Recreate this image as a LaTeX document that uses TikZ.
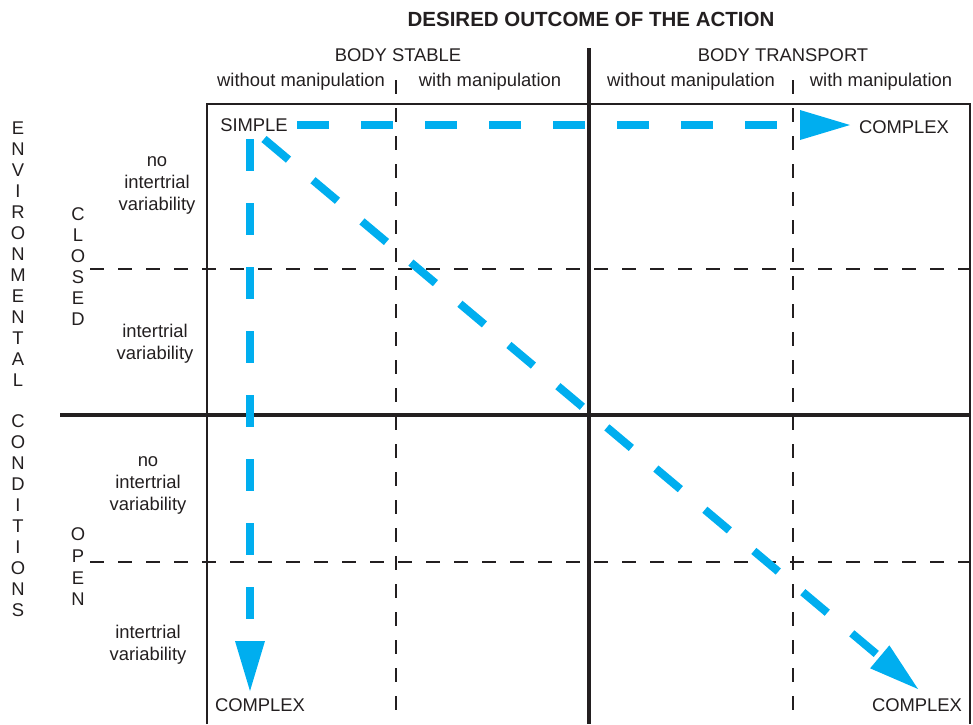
\documentclass[tikz,border=0pt]{standalone}
\usepackage{fontspec}
\setmainfont{Liberation Sans}
\usetikzlibrary{arrows.meta}

\definecolor{ink}{RGB}{35,31,32}
\definecolor{flow}{RGB}{0,174,239}

\tikzset{
	lbl/.style={text=ink, inner sep=0pt, align=center, font=\fontsize{18.4}{22}\selectfont},
	stack/.style={lbl, font=\fontsize{18.4}{21}\selectfont},
	gridline/.style={draw=ink, line width=1.4pt, dash pattern=on 14pt off 14pt},
	flowarrow/.style={draw=flow, line width=8pt, dash pattern=on 32pt off 32pt,
		-{Triangle[length=50pt, width=30pt, line width=0pt]}}
}

\begin{document}
\begin{tikzpicture}[x=1pt, y=-1pt]
	\useasboundingbox (0,0) rectangle (973,724);

	\pgfmathsetmacro{\L}{207}  % left edge of the grid
	\pgfmathsetmacro{\R}{970}  % right edge
	\pgfmathsetmacro{\T}{104}  % top edge
	\pgfmathsetmacro{\B}{724}  % bottom edge

	% Draw the frame
	\draw[ink, line width=2.2pt] (\L,\B) |- (\R,\T) -- (\R,\B);

	% Draw the dashed cell lines
	\draw[gridline] (396,80) -- (396,\B);
	\draw[gridline] (793,80) -- (793,\B);
	\draw[gridline] (90,269) -- (\R,269);
	\draw[gridline] (90,562) -- (\R,562);

	% Draw the main split
	\draw[ink, line width=4.5pt] (589,48) -- (589,\B);
	\draw[ink, line width=4.5pt] (60,415) -- (\R,415);

	% Label the columns
	\node[lbl, font=\fontsize{20.5}{24}\selectfont\bfseries] (title) at (591,19) {DESIRED OUTCOME OF THE ACTION};
	\node[lbl] (stable) at (398,55) {BODY STABLE};
	\node[lbl] (transport) at (783,55) {BODY TRANSPORT};
	\node[lbl] (stableWithout) at (301,82) {without manipulation};
	\node[lbl] (stableWith) at (490,82) {with manipulation};
	\node[lbl] (transWithout) at (691,82) {without manipulation};
	\node[lbl] (transWith) at (881,82) {with manipulation};

	% Label the rows
	\node[stack] (env) at (18,254) {E\\N\\V\\I\\R\\O\\N\\M\\E\\N\\T\\A\\L};
	\node[stack] (cond) at (18,516) {C\\O\\N\\D\\I\\T\\I\\O\\N\\S};
	\node[stack] (closed) at (78,267) {C\\L\\O\\S\\E\\D};
	\node[stack, font=\fontsize{18.4}{21.7}\selectfont] (open) at (78,567) {O\\P\\E\\N};

	\node[lbl] (closedNo) at (157,185) {no\\intertrial\\variability};
	\node[lbl] (closedVar) at (155,344) {intertrial\\variability};
	\node[lbl] (openNo) at (148,485) {no\\intertrial\\variability};
	\node[lbl] (openVar) at (148,645) {intertrial\\variability};

	% Label the ends
	\node[lbl] (simple) at (254,125) {SIMPLE};
	\node[lbl] (complexRight) at (904,127) {COMPLEX};
	\node[lbl] (complexDown) at (260,705) {COMPLEX};
	\node[lbl] (complexDiag) at (917,705) {COMPLEX};

	% Draw the vectors
	\coordinate (hStart) at (297,125);
	\coordinate (hEnd) at (850,125);
	\coordinate (vStart) at (250,139);
	\coordinate (vEnd) at (250,691);
	\coordinate (dStart) at (264,139);
	\coordinate (dEnd) at (918,689);

	\draw[flowarrow] (hStart) -- (hEnd);
	\draw[flowarrow] (vStart) -- (vEnd);
	\draw[flowarrow] (dStart) -- (dEnd);
\end{tikzpicture}
\end{document}
